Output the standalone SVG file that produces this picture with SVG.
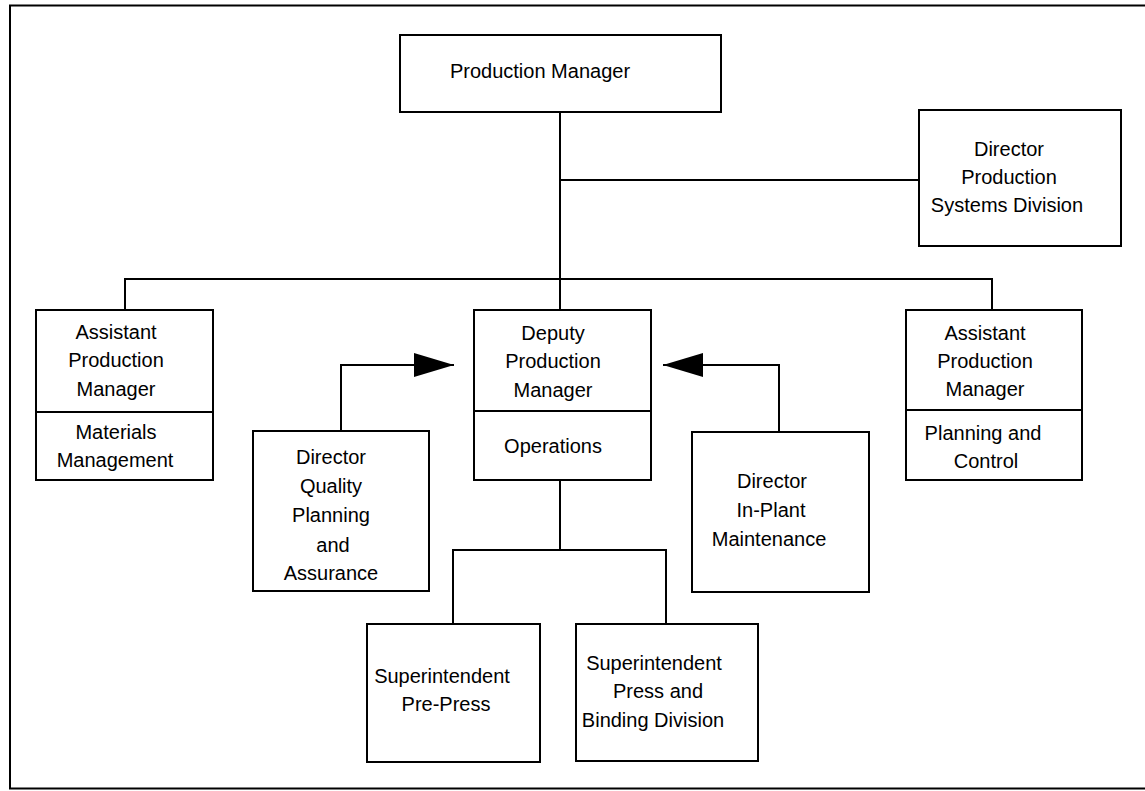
<svg xmlns="http://www.w3.org/2000/svg" width="1145" height="791" viewBox="0 0 1145 791">
<defs>
<style>
.box{fill:#fff;stroke:#000;stroke-width:2}
.ln{fill:none;stroke:#000;stroke-width:2}
text{font-family:"Liberation Sans",Arial,sans-serif;font-size:20px;fill:#000;text-anchor:middle}
</style>
<marker id="ah" viewBox="0 0 40 24" refX="40" refY="12" markerWidth="40" markerHeight="24" markerUnits="userSpaceOnUse" orient="auto">
<path d="M0,0 L40,12 L0,24 Z" fill="#000"/>
</marker>
</defs>
<rect width="1145" height="791" fill="#fff"/>
<path class="ln" d="M1146,5.5 H10 V788.5 H1146" stroke-width="2.5"/>
<g id="connectors">
<path class="ln" d="M560,112 V310"/>
<path class="ln" d="M560,180 H919"/>
<path class="ln" d="M125,310 V279 H992 V310"/>
<path class="ln" d="M560,480 V550"/>
<path class="ln" d="M453,624 V550 H666 V624"/>
<path class="ln" d="M341,431 V365 H454" marker-end="url(#ah)"/>
<path class="ln" d="M779,432 V365 H663" marker-end="url(#ah)"/>
</g>
<g id="production-manager">
<rect class="box" x="400" y="35" width="321" height="77"/>
<text x="540" y="78">Production Manager</text>
</g>
<g id="director-psd">
<rect class="box" x="919" y="110" width="202" height="136"/>
<text x="1009" y="156">Director</text>
<text x="1009" y="184">Production</text>
<text x="1007" y="212">Systems Division</text>
</g>
<g id="asst-materials">
<rect class="box" x="36" y="310" width="177" height="170"/>
<line class="ln" x1="36" y1="412" x2="213" y2="412"/>
<text x="116" y="339">Assistant</text>
<text x="116" y="367">Production</text>
<text x="116" y="396">Manager</text>
<text x="116" y="439">Materials</text>
<text x="115" y="467">Management</text>
</g>
<g id="deputy">
<rect class="box" x="474" y="310" width="177" height="170"/>
<line class="ln" x1="474" y1="411" x2="651" y2="411"/>
<text x="553" y="340">Deputy</text>
<text x="553" y="368">Production</text>
<text x="553" y="397">Manager</text>
<text x="553" y="453">Operations</text>
</g>
<g id="asst-planning">
<rect class="box" x="906" y="310" width="176" height="170"/>
<line class="ln" x1="906" y1="410" x2="1082" y2="410"/>
<text x="985" y="340">Assistant</text>
<text x="985" y="368">Production</text>
<text x="985" y="396">Manager</text>
<text x="983" y="440">Planning and</text>
<text x="986" y="468">Control</text>
</g>
<g id="director-quality">
<rect class="box" x="253" y="431" width="176" height="160"/>
<text x="331" y="464">Director</text>
<text x="331" y="493">Quality</text>
<text x="331" y="522">Planning</text>
<text x="333" y="552">and</text>
<text x="331" y="580">Assurance</text>
</g>
<g id="director-maintenance">
<rect class="box" x="692" y="432" width="177" height="160"/>
<text x="772" y="488">Director</text>
<text x="771" y="517">In-Plant</text>
<text x="769" y="546">Maintenance</text>
</g>
<g id="supt-prepress">
<rect class="box" x="367" y="624" width="173" height="138"/>
<text x="442" y="683">Superintendent</text>
<text x="446" y="711">Pre-Press</text>
</g>
<g id="supt-press">
<rect class="box" x="576" y="624" width="182" height="137"/>
<text x="654" y="670">Superintendent</text>
<text x="658" y="698">Press and</text>
<text x="653" y="727">Binding Division</text>
</g>
</svg>
